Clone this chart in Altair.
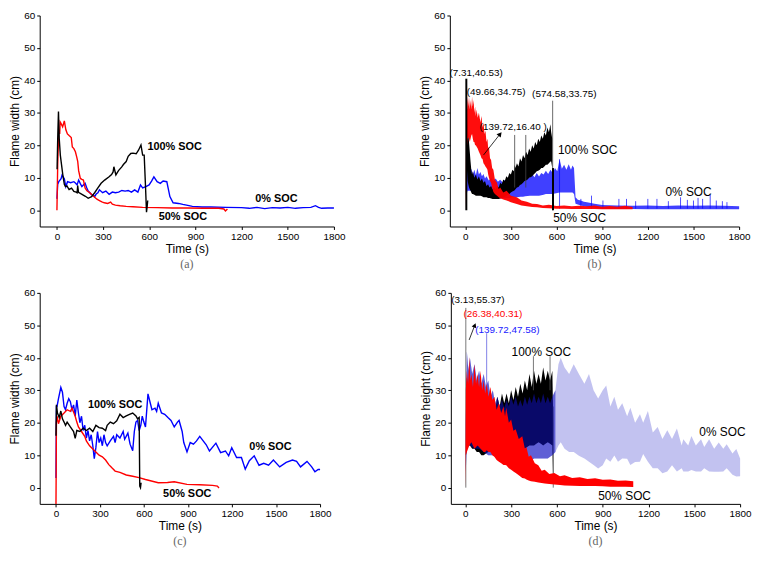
import altair as alt
import pandas as pd

FONT = "Liberation Sans"
SERIES = ["100% SOC", "50% SOC", "0% SOC"]
COLORS = ["#000000", "#ff0000", "#0000ff"]
X_TICKS = [0, 300, 600, 900, 1200, 1500, 1800]
Y_TICKS = [0, 10, 20, 30, 40, 50, 60]

# ---------------- panel (a): smoothed flame width ----------------
A_BLK_X = [1, 5, 10, 15, 22, 30, 38, 48, 55, 65, 79, 95, 110, 125, 131, 135, 140, 160, 185, 203,
           225, 245, 265, 287, 310, 339, 355, 365, 370, 383, 400, 420, 432, 450, 463, 480, 494, 515,
           530, 546, 557, 567, 575, 582, 586, 590]
A_BLK_Y = [12.6, 22, 30.4, 22, 17, 14, 11, 8, 7.3, 7.5, 6.4, 6.8, 5.8, 5.6, 5.4, 7.6, 5.5, 5.0, 4.3, 3.7,
           4.2, 5.4, 6.8, 8.3, 9.3, 10.3, 11.0, 11.8, 13.4, 10.9, 12.2, 13.3, 14.1, 15.0, 16.6, 17.5, 17.6, 17.4,
           18.5, 20.1, 17.0, 17.0, 8.0, -0.6, 1.0, 3.0]
A_RED_X = [0, 5, 12, 18, 21, 27, 37, 48, 58, 68, 79, 93, 100, 110, 120, 128, 135, 141, 152, 162,
           172, 183, 195, 214, 230, 245, 260, 276, 292, 308, 330, 349, 360, 380, 411, 450, 494, 557, 650, 750,
           850, 950, 1050, 1085, 1095, 1108]
A_RED_Y = [0, 14, 24.8, 23.5, 27.2, 26.7, 25.7, 27.5, 24.8, 23.5, 23.0, 22.4, 19.5, 19.0, 18.0, 16.5, 15.1, 12.2, 9.8, 9.5,
           9.3, 6.9, 6.0, 5.4, 4.6, 4.0, 3.4, 3.0, 2.6, 2.3, 2.1, 2.5, 1.9, 1.6, 1.4, 1.2, 1.1, 0.9, 0.8, 0.7,
           0.7, 0.6, 0.6, 0.4, -0.2, 0.4]
A_BLU_X = [0, 5, 12, 27, 33, 48, 58, 69, 89, 110, 120, 131, 141, 152, 162, 183, 193, 203, 224, 245,
           255, 266, 276, 297, 318, 339, 360, 380, 401, 422, 443, 463, 484, 505, 526, 543, 557, 578, 599, 615,
           630, 651, 672, 690, 714, 722, 734, 755, 790, 818, 850, 880, 943, 1000, 1100, 1200, 1250, 1300, 1350, 1400,
           1450, 1500, 1550, 1600, 1650, 1680, 1700, 1720, 1760, 1800]
A_BLU_Y = [3.5, 8.0, 8.8, 9.7, 10.8, 9.7, 7.3, 8.8, 8.5, 8.8, 8.4, 7.8, 9.3, 8.2, 7.3, 8.3, 7.0, 5.9, 4.9, 4.2,
           5.0, 5.4, 6.3, 5.4, 5.9, 4.9, 5.6, 5.4, 5.6, 6.1, 5.9, 6.1, 5.6, 6.3, 5.6, 7.8, 6.9, 7.3, 7.8, 9.0,
           10.3, 8.8, 8.3, 9.0, 8.8, 7.0, 4.2, 2.3, 2.1, 1.8, 1.5, 1.2, 1.0, 1.0, 0.9, 0.8, 0.6, 0.9, 0.5, 0.8,
           0.7, 0.9, 0.6, 0.8, 0.9, 1.4, 0.9, 0.6, 0.7, 0.7]

# ---------------- panel (c): smoothed flame width ----------------
C_BLK_X = [0, 3, 10, 22, 33, 44, 55, 65, 76, 98, 120, 131, 142, 163, 185, 207, 229, 251, 272, 294,
           316, 338, 349, 370, 392, 414, 436, 458, 479, 501, 523, 545, 556, 567, 571, 576, 580]
C_BLK_Y = [16, 25.5, 23.0, 21.6, 23.6, 21.2, 20.2, 19.2, 20.2, 18.7, 17.3, 15.2, 17.6, 17.3, 18.3, 17.6, 18.3, 17.3, 19.2, 18.5,
           18.3, 17.6, 19.2, 20.2, 19.7, 20.6, 22.6, 21.6, 22.1, 22.6, 23.0, 22.1, 21.2, 21.6, 0.5, 0.0, 1.5]
C_RED_X = [0, 1, 3, 7, 17, 33, 55, 76, 98, 109, 131, 142, 153, 174, 196, 207, 229, 251, 272, 294,
           316, 338, 360, 381, 403, 436, 479, 523, 566, 610, 697, 760, 806, 893, 980, 1067, 1100, 1111]
C_RED_Y = [-5, 3, 20, 22, 19.7, 22, 23, 24, 23.5, 24.5, 22, 20.2, 18.7, 17.3, 15.8, 14.4, 12.9, 11.9, 11.0, 10.0,
           9.5, 8.5, 7.1, 6.1, 5.1, 4.7, 3.9, 3.5, 3.1, 2.5, 1.5, 1.6, 1.8, 1.0, 0.9, 0.7, 0.5, -0.1]
C_BLU_X = [0, 3, 7, 17, 33, 44, 55, 65, 76, 87, 98, 109, 120, 131, 142, 153, 163, 174, 185, 196,
           207, 218, 229, 240, 251, 261, 272, 283, 294, 305, 316, 327, 338, 349, 370, 392, 403, 414, 436, 458,
           468, 490, 505, 523, 534, 545, 556, 567, 578, 588, 599, 610, 627, 643, 654, 675, 686, 697, 719, 741,
           763, 784, 806, 828, 839, 860, 871, 893, 915, 937, 958, 980, 1024, 1046, 1090, 1122, 1155, 1177, 1198, 1231,
           1264, 1290, 1318, 1351, 1384, 1416, 1449, 1482, 1525, 1569, 1612, 1640, 1667, 1711, 1743, 1765, 1787, 1800]
C_BLU_Y = [3, 25, 25, 27.4, 30.9, 29.4, 25, 24, 26, 27.4, 26.5, 24, 25.5, 22, 27, 23, 20, 22, 17.6, 19.2,
           15.3, 17.6, 14.4, 16.3, 12.9, 8.9, 12.4, 17.3, 13.9, 15.3, 12.9, 16.3, 13.9, 12.9, 14.4, 15.8, 13.9, 16.3, 15.3, 17.3,
           14.9, 16.8, 13.4, 11.4, 17.3, 20.2, 20.7, 17.6, 19.2, 22, 20.2, 18.7, 28.9, 26, 24, 24.5, 23.5, 26, 23, 22.6,
           21.6, 20.7, 18.7, 20.2, 20.7, 17.3, 13.9, 11.0, 13.9, 13.4, 14.4, 15.8, 13.2, 11.3, 13.7, 10.8, 11.3, 9.8, 12.3, 9.3,
           9.3, 5.7, 8.3, 9.8, 6.9, 7.5, 6.9, 8.5, 6.4, 7.8, 8.5, 8.1, 6.4, 8.1, 6.4, 4.9, 5.6, 5.6]

# ---------------- panel (b): raw flame width, (time, low, high) envelope ----------------
B_BLK = [(9, 15, 33), (12, 12, 30), (16, 9, 27), (20, 8, 24), (25, 7, 21), (30, 6.5, 18), (35, 6, 15),
         (40, 5.5, 12.5), (45, 5, 11), (50, 5, 12), (60, 4.8, 10), (70, 4.5, 11), (80, 4.5, 9.5), (90, 4.5, 10.5),
         (100, 4.5, 9), (110, 4.3, 9.8), (120, 4, 8.5), (130, 4, 9), (140, 4, 7.5), (150, 3.8, 8), (160, 3.8, 7),
         (170, 3.6, 7.5), (180, 3.5, 6.5), (190, 3.5, 7), (200, 3.5, 6.5), (210, 3.5, 7.5), (220, 3.5, 7),
         (230, 3.6, 8.5), (240, 3.8, 8), (250, 4, 9.5), (260, 4.2, 9), (270, 4.5, 10.5), (280, 4.8, 10),
         (290, 5, 11.5), (300, 5.5, 11), (310, 5.8, 12.5), (320, 6, 12), (325, 6.2, 14), (330, 6.5, 13),
         (340, 7, 14.5), (350, 7.2, 13.5), (360, 7.8, 16), (370, 8, 15), (380, 8.5, 17), (390, 9, 16),
         (400, 9.2, 18), (410, 9.5, 17), (420, 10, 19), (430, 10.2, 18), (440, 10.5, 20), (450, 11, 19),
         (460, 11.5, 21), (470, 12, 20), (480, 12.2, 22), (490, 12.5, 21), (500, 13, 23), (510, 13, 22),
         (520, 13.5, 24), (530, 14, 23), (540, 14, 25.5), (550, 14.5, 24), (560, 15, 26.5), (565, 15, 24),
         (572, 13, 22)]
B_RED = [(3, 0, 5), (6, 8, 30), (8, 15, 34), (12, 20, 31), (16, 22, 35), (20, 22.5, 32), (25, 22, 35),
         (30, 21, 31), (35, 22, 34), (40, 23, 31), (45, 23.5, 35), (50, 22, 32), (55, 21, 34), (60, 21, 30),
         (65, 20, 32), (70, 20, 29), (75, 19.6, 31), (82, 19, 28.5), (90, 18, 30), (100, 17, 27), (107, 16, 29),
         (114, 15.8, 25.5), (120, 14.5, 27), (127, 14, 23.5), (133, 13.5, 24.5), (140, 13, 21), (146, 12.5, 22),
         (151, 11, 19), (156, 10, 19.5), (163, 9, 16), (170, 8.4, 15.5), (177, 7, 13), (185, 5.6, 12.5),
         (195, 5, 9.5), (209, 4.5, 8.5), (220, 4, 6.5), (230, 3.7, 7), (250, 3.3, 5.5), (272, 3, 6),
         (300, 2.5, 4.5), (339, 1.9, 4), (370, 1.5, 3), (405, 1.2, 2.6), (440, 1.0, 2), (472, 0.9, 1.9),
         (510, 0.7, 1.5), (550, 0.6, 1.7), (600, 0.5, 1.3), (650, 0.5, 1.5), (700, 0.4, 1.2), (750, 0.4, 1.4),
         (800, 0.4, 1.2), (850, 0.4, 1.5), (900, 0.3, 1.1), (950, 0.3, 1.3), (1000, 0.3, 1.1), (1050, 0.3, 1.4),
         (1100, 0.3, 1.0)]
B_BLU = [(5, 0, 8), (10, 5, 14), (15, 6, 12), (20, 6, 13.5), (30, 6, 11.5), (40, 6, 12.8), (50, 6.5, 11),
         (60, 6.5, 12.5), (70, 6.2, 10.8), (80, 6, 13), (90, 6, 11), (100, 6, 11.8), (110, 5.8, 10.5),
         (120, 5.5, 11.2), (130, 5.2, 9.8), (140, 5, 10.5), (155, 4.8, 9.2), (170, 4.5, 10), (185, 4.2, 9),
         (200, 4, 9.8), (215, 3.8, 8.8), (230, 3.7, 9.4), (245, 3.7, 8.6), (260, 3.7, 9.3), (275, 3.8, 8.8),
         (290, 3.8, 9.8), (305, 4, 9.2), (320, 4, 10.2), (335, 4, 9.6), (350, 4.1, 10.8), (365, 4.2, 9.8),
         (380, 4.2, 10.8), (395, 4.3, 9.9), (410, 4.4, 11), (425, 4.5, 10), (440, 4.5, 11.2), (455, 4.5, 10.2),
         (470, 4.5, 11.5), (485, 4.5, 10.4), (500, 4.6, 11.5), (515, 4.8, 11), (530, 5, 12.2), (545, 5, 11.2),
         (560, 5, 12.5), (575, 5, 11.5), (590, 5.2, 13), (605, 5.3, 12), (620, 5.5, 15.7), (635, 5.5, 12.8),
         (650, 5.5, 14), (665, 5.5, 12.5), (680, 5.5, 14.2), (695, 5.5, 12.5), (705, 5.5, 13.8), (715, 5, 13),
         (725, 2, 4), (740, 1.8, 3.2), (760, 1.5, 3), (780, 1.2, 2.6), (800, 1, 2.5), (850, 0.8, 2),
         (900, 0.5, 1.6), (1000, 0.4, 1.5), (1100, 0.4, 1.4), (1200, 0.3, 1.5), (1300, 0.3, 1.3),
         (1400, 0.3, 1.5), (1500, 0.3, 1.4), (1600, 0.3, 1.5), (1700, 0.3, 1.4), (1800, 0.3, 1.2)]
B_BLU_SPIKE_X = [620, 760, 830, 905, 1010, 1060, 1120, 1200, 1260, 1335, 1415, 1460, 1500, 1530, 1560, 1610, 1650, 1690, 1720]
B_BLU_SPIKE_Y = [15.7, 3.5, 4.5, 3.0, 3.5, 3.5, 2.8, 3.5, 3.5, 2.8, 4.0, 3.2, 3.0, 3.8, 3.5, 4.7, 3.0, 2.8, 2.5]
B_GRAY_X = [325, 398, 574.58]
B_GRAY_Y0 = [7, 7, 0]
B_GRAY_Y1 = [23.2, 23.2, 33.75]
B_BLK_SPIKE_X = [7.31, 577]
B_BLK_SPIKE_Y0 = [0, 0]
B_BLK_SPIKE_Y1 = [40.53, 13]

# ---------------- panel (d): raw flame height, (time, low, high) envelope ----------------
D_RED = [(0, 0, 5), (3, 10, 30), (10, 11, 36), (18, 12, 32), (26, 13, 40.3), (33, 13.5, 33), (40, 14, 35),
         (50, 13, 31), (60, 12, 38), (70, 12.5, 32), (80, 13, 35), (90, 12.5, 31), (100, 12, 36), (110, 11.5, 30),
         (120, 11, 33), (130, 11, 29), (140, 11.5, 32), (152, 11, 28), (164, 11, 31), (177, 10, 27),
         (190, 9.5, 28), (205, 8.5, 24), (220, 8, 26), (235, 7.5, 23), (250, 7, 25), (260, 7, 22),
         (268, 6.9, 24.6), (285, 6, 20), (300, 5.5, 21), (315, 5, 17.5), (330, 4.5, 18), (350, 3.8, 15),
         (373, 3, 15.8), (390, 2.8, 12), (400, 2.5, 12.5), (415, 2.2, 9.5), (430, 2, 10), (455, 1.8, 7.5),
         (478, 1.6, 6.9), (500, 1.4, 5.2), (520, 1.3, 5.5), (550, 1.1, 4.2), (583, 1.0, 4.5), (620, 0.8, 3.5),
         (650, 0.7, 3.8), (700, 0.6, 3), (750, 0.5, 3.2), (800, 0.5, 2.7), (850, 0.5, 2.9), (900, 0.4, 2.4),
         (950, 0.3, 2.5), (1000, 0.3, 2.1), (1050, 0.3, 2.2), (1100, 0.2, 2.0)]
D_BLK = [(5, 10, 30), (10, 12, 34), (20, 13, 29), (30, 13, 33), (45, 12, 28), (60, 12, 32), (75, 11, 27),
         (90, 11, 30), (105, 10, 26), (120, 10, 30), (135, 10.5, 26), (150, 11, 28), (165, 11.5, 24),
         (180, 12, 27), (195, 12, 24), (210, 12, 28), (225, 11.5, 25), (240, 11, 29), (255, 11.5, 26),
         (270, 12, 29), (285, 12, 26), (300, 12, 30), (315, 12, 27), (330, 12, 31), (345, 12.5, 28),
         (360, 13, 32), (375, 12.5, 29), (390, 12, 33), (405, 12.5, 30), (420, 13, 35), (435, 13, 31),
         (450, 13, 36), (465, 13.5, 32), (480, 14, 35), (495, 13.5, 32), (510, 13, 37), (525, 13.5, 33),
         (540, 14, 36), (555, 13.5, 33), (570, 13, 36), (576, 0, 20)]
D_BLU = [(3, 5, 20), (10, 14, 42), (20, 13, 36), (30, 13, 40), (45, 12.5, 35), (60, 12, 38), (75, 12, 33),
         (90, 12, 36), (105, 11.5, 32), (120, 11, 35), (135, 10.5, 31), (150, 10, 33), (165, 10, 28),
         (180, 10, 30), (195, 9.5, 26), (210, 9, 28), (225, 9, 25), (240, 9, 27), (255, 8.5, 24.5), (270, 8, 27),
         (285, 8, 25), (300, 8, 28), (315, 8, 25.5), (330, 8, 28), (345, 8, 25), (360, 8, 27), (375, 8.5, 25),
         (390, 9, 28), (405, 8.5, 25.5), (420, 8, 28), (435, 8.5, 26), (450, 9, 29), (465, 9, 26), (480, 9, 28),
         (495, 9, 26), (510, 9, 29), (525, 9, 26), (540, 9, 28), (555, 9.5, 26), (570, 10, 28), (590, 11, 30),
         (610, 13, 38), (625, 14, 40), (650, 12, 37), (680, 11, 35), (710, 11, 38), (744, 9.8, 35), (780, 9, 32),
         (810, 8, 35), (840, 7, 30), (870, 5.9, 27.5), (900, 6.9, 30), (923, 9, 31.5), (950, 8, 25),
         (976, 9.9, 28), (1000, 8, 24), (1028, 9, 26), (1060, 8.9, 22), (1081, 7, 24.6), (1112, 7.9, 20),
         (1144, 8, 22.6), (1165, 10.4, 20), (1196, 8, 23.6), (1228, 6, 17), (1260, 6, 18.7), (1291, 4.4, 15),
         (1323, 5, 17.7), (1354, 6.9, 15), (1386, 5, 18.2), (1417, 6, 13), (1428, 5, 14.9), (1460, 5, 13),
         (1481, 5.4, 15.9), (1510, 5, 13), (1544, 5, 14.9), (1565, 6, 12.5), (1597, 5, 14.9), (1630, 4.9, 12),
         (1660, 4.9, 13.9), (1690, 5, 12), (1712, 6, 13.4), (1750, 4, 10.5), (1775, 3.4, 11.9), (1800, 3.5, 9)]
D_GRAY_X = [3.13, 446, 555, 576]
D_GRAY_Y0 = [0, 30, 30, 0]
D_GRAY_Y1 = [55.37, 40.5, 40.5, 25]
D_BLU_SPIKE_X = [139.72]
D_BLU_SPIKE_Y0 = [20]
D_BLU_SPIKE_Y1 = [47.58]

H = 213


def xenc(xmin, field="x"):
    return alt.X(f"{field}:Q", scale=alt.Scale(domain=[xmin, 1800], nice=False, zero=False),
                 axis=alt.Axis(values=X_TICKS, title="Time (s)", labelFlush=False, format="d"))


def yenc(title, field="y"):
    return alt.Y(f"{field}:Q", scale=alt.Scale(domain=[-5, 60], nice=False, zero=False),
                 axis=alt.Axis(values=Y_TICKS, title=title, format="d"))


def lines_df(parts):
    rows = []
    for name, xs, ys in parts:
        for i, (xv, yv) in enumerate(zip(xs, ys)):
            rows.append({"s": name, "x": xv, "y": yv, "i": i})
    return pd.DataFrame(rows)


def band_df(rows):
    return pd.DataFrame(rows, columns=["x", "lo", "hi"])


def rule_df(xs, y0, y1):
    return pd.DataFrame({"x": xs, "y0": y0, "y1": y1})


def text_layer(rows, xmin, ytitle, align, size, weight="normal"):
    df = pd.DataFrame(rows, columns=["x", "y", "t", "c"])
    return alt.Chart(df).mark_text(align=align, baseline="middle", font=FONT, fontSize=size,
                                   fontWeight=weight).encode(
        x=xenc(xmin), y=yenc(ytitle), text="t:N", color=alt.Color("c:N", scale=None))


def band(rows, xmin, ytitle, color, opacity=1.0):
    return alt.Chart(band_df(rows)).mark_area(color=color, opacity=opacity).encode(
        x=xenc(xmin), y=yenc(ytitle, "lo"), y2="hi:Q")


def rules(xs, y0, y1, xmin, ytitle, color, width):
    return alt.Chart(rule_df(xs, y0, y1)).mark_rule(color=color, strokeWidth=width).encode(
        x=xenc(xmin), y=yenc(ytitle, "y0"), y2="y1:Q")


def smooth_lines(parts, xmin, ytitle):
    return alt.Chart(lines_df(parts)).mark_line(strokeWidth=1.4).encode(
        x=xenc(xmin), y=yenc(ytitle),
        color=alt.Color("s:N", scale=alt.Scale(domain=SERIES, range=COLORS), legend=None),
        detail="s:N", order="i:Q")


def panel_title(t):
    return alt.TitleParams(t, orient="bottom", font="Liberation Serif", fontSize=12,
                           fontWeight="normal", color="#666666", offset=5)


YW = "Flame width (cm)"
YH = "Flame height (cm)"

# (a)
xa = -112
pa = alt.layer(
    smooth_lines([("0% SOC", A_BLU_X, A_BLU_Y), ("50% SOC", A_RED_X, A_RED_Y),
                  ("100% SOC", A_BLK_X, A_BLK_Y)], xa, YW),
    text_layer([(588, 19.5, "100% SOC", "black"), (1289, 3.5, "0% SOC", "black"),
                (661, -2.1, "50% SOC", "black")], xa, YW, "left", 11, "bold"),
).properties(width=297, height=H, title=panel_title("(a)"))

# (b)
xb = -101
arrow_b = pd.DataFrame({"x": [120], "y": [17], "x2": [226], "y2": [23.3]})
pb = alt.layer(
    band(B_BLU, xb, YW, "#0000ff", 0.75),
    rules(B_BLU_SPIKE_X, [0.5] * len(B_BLU_SPIKE_X), B_BLU_SPIKE_Y, xb, YW, "#0000ff", 0.7),
    band(B_BLK, xb, YW, "#000000"),
    band(B_RED, xb, YW, "#ff0000", 0.95),
    rules(B_GRAY_X, B_GRAY_Y0, B_GRAY_Y1, xb, YW, "#444444", 0.8),
    rules(B_BLK_SPIKE_X, B_BLK_SPIKE_Y0, B_BLK_SPIKE_Y1, xb, YW, "#000000", 2),
    alt.Chart(arrow_b).mark_rule(color="black", strokeWidth=0.8).encode(
        x=xenc(xb), y=yenc(YW), x2="x2:Q", y2="y2:Q"),
    alt.Chart(arrow_b).mark_point(shape="triangle", filled=True, size=30, angle=39, color="black",
                                  opacity=1).encode(x=xenc(xb, "x2"), y=yenc(YW, "y2")),
    text_layer([(72, 42.3, "(7.31,40.53)", "black"), (203, 36.5, "(49.66,34.75)", "black"),
                (651, 35.8, "(574.58,33.75)", "black"), (315, 25.6, "(139.72,16.40 )", "black")],
               xb, YW, "center", 10),
    text_layer([(609, 18.4, "100% SOC", "black"), (1316, 5.5, "0% SOC", "black"),
                (578, -2.5, "50% SOC", "black")], xb, YW, "left", 12),
).properties(width=292, height=H, title=panel_title("(b)"))

# (c)
xc = -111
pc = alt.layer(
    smooth_lines([("0% SOC", C_BLU_X, C_BLU_Y), ("50% SOC", C_RED_X, C_RED_Y),
                  ("100% SOC", C_BLK_X, C_BLK_Y)], xc, YW),
    text_layer([(218, 25.3, "100% SOC", "black"), (1318, 12.5, "0% SOC", "black"),
                (730, -2.0, "50% SOC", "black")], xc, YW, "left", 11, "bold"),
).properties(width=283, height=H, title=panel_title("(c)"))

# (d)
xd = -95
arrow_d = pd.DataFrame({"x": [25], "y": [45.5], "x2": [60], "y2": [49.8]})
pd_blu_early = [r for r in D_BLU if r[0] <= 590]
pdd = alt.layer(
    band(D_BLU, xd, YH, "#4040d0", 0.32),
    band(D_BLK, xd, YH, "#000000"),
    rules(D_GRAY_X, D_GRAY_Y0, D_GRAY_Y1, xd, YH, "#555555", 0.8),
    band(pd_blu_early, xd, YH, "#1010c0", 0.55),
    rules(D_BLU_SPIKE_X, D_BLU_SPIKE_Y0, D_BLU_SPIKE_Y1, xd, YH, "#6060e0", 0.8),
    band(D_RED, xd, YH, "#ff0000"),
    alt.Chart(arrow_d).mark_rule(color="black", strokeWidth=0.8).encode(
        x=xenc(xd), y=yenc(YH), x2="x2:Q", y2="y2:Q"),
    alt.Chart(arrow_d).mark_point(shape="triangle", filled=True, size=25, angle=22, color="black",
                                  opacity=1).encode(x=xenc(xd, "x2"), y=yenc(YH, "y2")),
    text_layer([(82, 57.8, "(3.13,55.37)", "black"), (180, 53.6, "(26.38,40.31)", "#ff0000"),
                (276, 48.4, "(139.72,47.58)", "#2020ff")], xd, YH, "center", 10),
    text_layer([(303, 41.7, "100% SOC", "black"), (1533, 17.2, "0% SOC", "black"),
                (870, -2.5, "50% SOC", "black")], xd, YH, "left", 12),
).properties(width=292, height=H, title=panel_title("(d)"))

chart = alt.vconcat(
    alt.hconcat(pa, pb, spacing=73),
    alt.hconcat(pc, pdd, spacing=88),
    spacing=18,
).properties(padding=0).configure_axis(
    grid=False, domainColor="black", tickColor="black", labelColor="black", titleColor="black",
    labelFont=FONT, titleFont=FONT, labelFontSize=10, titleFontSize=12, titleFontWeight="normal",
    tickSize=3, labelPadding=2, titlePadding=2,
).configure_view(stroke=None)

chart.save("out.html", embed_options={"renderer": "svg", "actions": False})
